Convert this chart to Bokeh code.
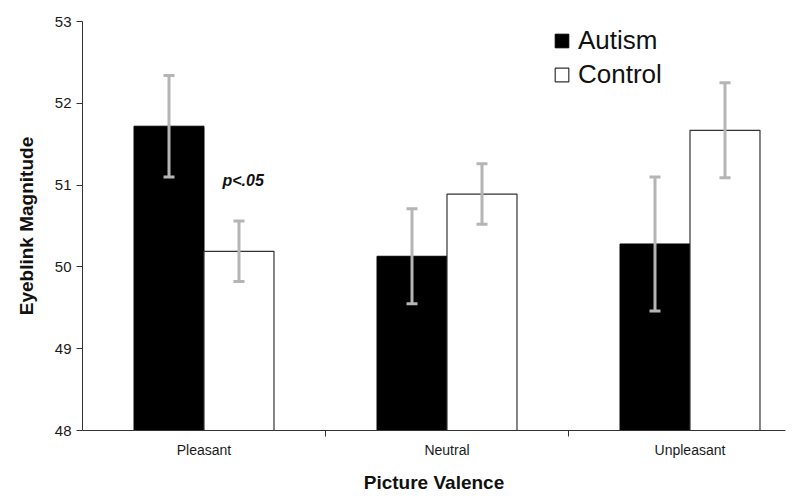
from bokeh.plotting import figure
from bokeh.models import (Range1d, FixedTicker, Whisker, ColumnDataSource, Legend,
                          LegendItem, Label, TeeHead)
from bokeh.embed import file_html
from bokeh.resources import INLINE

categories = ["Pleasant", "Neutral", "Unpleasant"]
autism = [51.72, 50.13, 50.28]
control = [50.19, 50.89, 51.67]
autism_err = [0.62, 0.58, 0.82]
control_err = [0.37, 0.37, 0.58]
y_ticks = [48, 49, 50, 51, 52, 53]

centers = [i + 0.5 for i in range(len(categories))]
bw = 0.288
xa = [c - bw / 2 for c in centers]
xc = [c + bw / 2 for c in centers]

FONT = "Liberation Sans"
ERR = "#b5b5b5"

p = figure(width=790, height=500, output_backend="svg", toolbar_location=None,
           x_range=Range1d(0, 2.893), y_range=Range1d(48, 53),
           min_border_left=82, min_border_right=5, min_border_top=21, min_border_bottom=70)
p.outline_line_color = None
p.grid.visible = False
p.background_fill_color = "white"

src_a = ColumnDataSource(dict(x=xa, top=autism,
                              up=[v + e for v, e in zip(autism, autism_err)],
                              lo=[v - e for v, e in zip(autism, autism_err)]))
src_c = ColumnDataSource(dict(x=xc, top=control,
                              up=[v + e for v, e in zip(control, control_err)],
                              lo=[v - e for v, e in zip(control, control_err)]))

ra = p.vbar(x="x", top="top", bottom=48, width=bw, source=src_a,
            fill_color="black", line_color="black", line_width=1)
rc = p.vbar(x="x", top="top", bottom=48, width=bw, source=src_c,
            fill_color="white", line_color="#333333", line_width=1.2)

for src in (src_a, src_c):
    w = Whisker(base="x", upper="up", lower="lo", source=src, level="annotation",
                line_color=ERR, line_width=3,
                upper_head=TeeHead(size=11, line_color=ERR, line_width=3),
                lower_head=TeeHead(size=11, line_color=ERR, line_width=3))
    p.add_layout(w)

# axes
p.yaxis.ticker = FixedTicker(ticks=y_ticks)
p.yaxis.axis_label = "Eyeblink Magnitude"
p.yaxis.axis_label_text_font = FONT
p.yaxis.axis_label_text_font_style = "bold"
p.yaxis.axis_label_text_font_size = "19px"
p.yaxis.axis_label_text_color = "#111111"
p.yaxis.axis_label_standoff = 15
p.yaxis.major_label_text_font = FONT
p.yaxis.major_label_text_font_size = "15px"
p.yaxis.major_label_text_color = "#1a1a1a"
p.yaxis.major_label_standoff = 5
p.yaxis.major_tick_out = 6
p.yaxis.major_tick_in = 0
p.yaxis.minor_tick_line_color = None
p.yaxis.axis_line_color = "#333333"
p.yaxis.major_tick_line_color = "#333333"

p.xaxis.ticker = FixedTicker(ticks=centers, minor_ticks=[1, 2])
p.xaxis.major_label_overrides = {c: name for c, name in zip(centers, categories)}
p.xaxis.major_tick_line_color = None
p.xaxis.minor_tick_out = 6
p.xaxis.minor_tick_in = 0
p.xaxis.minor_tick_line_color = "#333333"
p.xaxis.axis_line_color = "#333333"
p.xaxis.major_label_text_font = FONT
p.xaxis.major_label_text_font_size = "14px"
p.xaxis.major_label_text_color = "#1a1a1a"
p.xaxis.major_label_standoff = 5
p.xaxis.axis_label = "Picture Valence"
p.xaxis.axis_label_text_font = FONT
p.xaxis.axis_label_text_font_style = "bold"
p.xaxis.axis_label_text_font_size = "19px"
p.xaxis.axis_label_text_color = "#111111"
p.xaxis.axis_label_standoff = 11

legend = Legend(items=[LegendItem(label="Autism", renderers=[ra]),
                       LegendItem(label="Control", renderers=[rc])],
                location=(471, 340), glyph_width=17, glyph_height=17,
                label_height=17, spacing=3, padding=0, margin=0,
                label_standoff=8, label_text_font=FONT, label_text_font_size="26px",
                label_text_color="#111111",
                border_line_color=None, background_fill_alpha=0)
p.add_layout(legend)

p.add_layout(Label(x=0.576, y=51.06, text="p<.05", text_font=FONT,
                   text_font_style="bold italic", text_font_size="16px",
                   text_align="left", text_baseline="middle", text_color="#111111"))

open("out.html", "w").write(file_html(p, INLINE))
